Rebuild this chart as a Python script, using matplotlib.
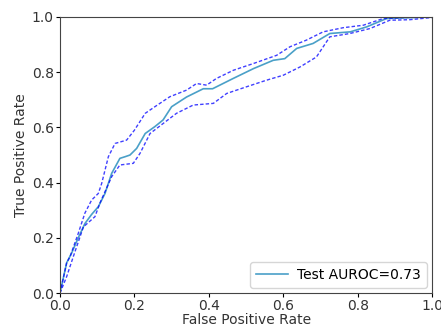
import matplotlib
matplotlib.use("Agg")
import matplotlib.pyplot as plt

# Mean ROC curve
fpr = [0.0, 0.018, 0.031, 0.049, 0.067, 0.085, 0.103, 0.121, 0.139, 0.161,
       0.175, 0.188, 0.206, 0.229, 0.255, 0.277, 0.30, 0.34, 0.385, 0.41,
       0.465, 0.52, 0.573, 0.604, 0.636, 0.68, 0.725, 0.78, 0.824, 0.877,
       0.93, 1.0]
tpr = [0.0, 0.11, 0.144, 0.20, 0.252, 0.285, 0.313, 0.361, 0.434, 0.488,
       0.494, 0.50, 0.524, 0.578, 0.603, 0.627, 0.675, 0.71, 0.74, 0.74,
       0.777, 0.813, 0.843, 0.849, 0.886, 0.904, 0.94, 0.946, 0.964, 0.994,
       0.997, 1.0]

# Upper confidence bound
fpr_hi = [0.0, 0.018, 0.027, 0.049, 0.067, 0.085, 0.103, 0.112, 0.13, 0.148,
          0.179, 0.20, 0.229, 0.255, 0.295, 0.34, 0.367, 0.394, 0.42, 0.466,
          0.519, 0.582, 0.618, 0.662, 0.707, 0.761, 0.815, 0.868, 0.93, 1.0]
tpr_hi = [0.0, 0.11, 0.132, 0.216, 0.29, 0.337, 0.361, 0.397, 0.494, 0.542,
          0.554, 0.59, 0.651, 0.675, 0.711, 0.735, 0.759, 0.753, 0.777, 0.807,
          0.831, 0.861, 0.892, 0.916, 0.946, 0.961, 0.97, 0.994, 0.998, 1.0]

# Lower confidence bound
fpr_lo = [0.0, 0.018, 0.036, 0.063, 0.094, 0.107, 0.139, 0.161, 0.197, 0.215,
          0.242, 0.277, 0.313, 0.358, 0.412, 0.448, 0.501, 0.555, 0.60, 0.645,
          0.689, 0.725, 0.779, 0.833, 0.886, 0.94, 1.0]
tpr_lo = [0.0, 0.06, 0.133, 0.24, 0.277, 0.325, 0.422, 0.464, 0.47, 0.506,
          0.578, 0.614, 0.651, 0.681, 0.687, 0.723, 0.747, 0.771, 0.789, 0.819,
          0.855, 0.928, 0.94, 0.958, 0.988, 0.99, 0.998]

auroc = 0.73

fig = plt.figure(figsize=(4.41, 3.32), dpi=100)
ax = fig.add_axes([0.136, 0.117, 0.844, 0.832])

ax.plot(fpr, tpr, color='#4aa0c8', lw=1.2, label='Test AUROC=%.2f' % auroc)
ax.plot(fpr_hi, tpr_hi, 'b--', lw=1.0, dashes=(2.5, 1.5), alpha=0.75)
ax.plot(fpr_lo, tpr_lo, 'b--', lw=1.0, dashes=(2.5, 1.5), alpha=0.75)

ax.set_xlim(0, 1)
ax.set_ylim(0, 1)
ax.set_xlabel('False Positive Rate', fontsize=10, labelpad=0, color='#333333')
ax.set_ylabel('True Positive Rate', fontsize=10, labelpad=3, color='#333333')
ax.tick_params(labelsize=10, length=3, pad=1.5, labelcolor='#333333')
for s in ax.spines.values():
    s.set_color('#444444')
ax.legend(loc='lower right', fontsize=10, handlelength=2.3,
          handletextpad=0.7, borderaxespad=0.4)

plt.savefig('out.png', dpi=100)
